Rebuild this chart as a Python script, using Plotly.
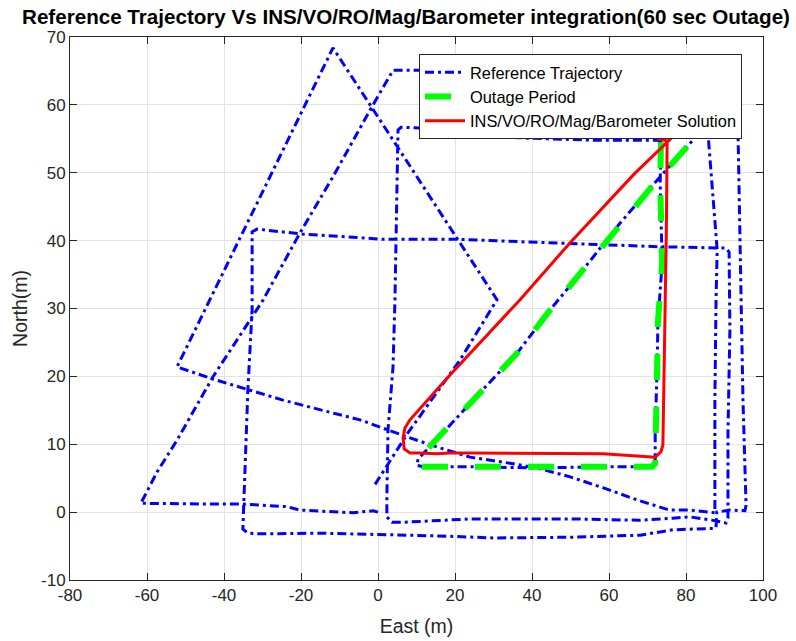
import plotly.graph_objects as go

# Reference trajectory (East, North in metres) up to the start of the outage window
ref_east_before = [0.0, -1.3, -6.5, -15.1, -20.3, -23.6, -35.1, -45.5, -61.6,
                   -57.4, -52.2, -42.9, -29.9, -20.3, -11.7, -2.1, 3.9,
                   10.9, 92.0,
                   93.5, 94.0, 94.6, 94.8, 95.6, 95.3, 91.4, 88.0,
                   87.8, 87.0, 76.6, 68.1, 49.9, 29.9, 15.3, 5.7, -15.1, -30.7, -33.8, -35.1,
                   -34.8, -34.5, -33.8, -32.7, -32.7, -31.4,
                   -20.3, 1.3, 20.5, 38.7, 59.5, 73.3, 90.4, 91.2,
                   91.4, 90.9, 90.9, 90.4,
                   88.0, 81.0, 76.6, 68.1, 49.9, 23.9, 6.5, 3.6, 2.3,
                   2.3, 2.6, 3.9, 4.4, 4.9, 5.2, 6.0,
                   10.9, 21.3, 38.7, 55.9, 72.5]
ref_north_before = [0.0, 0.2, -0.1, 0.2, 0.3, 0.8, 1.2, 1.2, 1.3,
                    5.9, 10.6, 19.9, 31.2, 41.1, 49.4, 59.2, 65.1,
                    65.1, 63.0,
                    56.3, 41.6, 26.8, 16.5, 1.0, 0.2, 0.3, 0.0,
                    -2.3, -2.4, -2.6, -3.4, -3.7, -3.8, -3.5, -3.4, -3.1, -3.2, -3.1, -2.5,
                    1.8, 6.2, 18.0, 29.8, 41.3, 41.7,
                    41.0, 40.2, 40.2, 39.8, 39.4, 39.1, 38.9, 38.3,
                    26.8, 11.7, -0.9, -1.6,
                    -1.3, -0.7, -0.9, -1.2, -1.0, -1.0, -1.5, -1.5, -0.7,
                    2.2, 12.1, 21.4, 31.2, 51.4, 56.3, 56.7,
                    56.6, 55.6, 55.1, 54.8, 54.8]

# Reference trajectory during the 60 s outage
outage_east = [73.5, 73.3, 73.8, 72.7, 72.5, 72.0, 72.0, 71.2, 58.4, 41.3, 23.9, 11.7,
               10.1, 10.4, 12.2, 16.9, 26.0, 36.1, 44.7, 51.7, 62.9, 72.5, 81.8, 85.2]
outage_north = [54.5, 48.5, 36.7, 27.9, 21.4, 11.7, 7.2, 6.7, 6.7, 6.5, 6.7, 6.7,
                6.9, 7.8, 8.9, 11.7, 17.3, 23.4, 29.8, 34.6, 42.6, 48.9, 54.8, 57.6]

# Reference trajectory after the outage window
ref_east_after = [85.7, 86.8, 88.1, 87.8, 87.5, 87.5,
                  81.0, 75.7, 67.3, 58.4, 49.9, 41.3, 34.3, 23.9, 15.3, 7.0, -4.7, -11.7,
                  -24.7, -34.0, -42.9, -52.2,
                  -11.7, 30.9, 21.3, 7.8, -1.3]
ref_north_after = [55.9, 48.5, 38.6, 31.2, 16.5, -0.1,
                   0.3, 0.3, 1.8, 3.6, 5.2, 6.5, 7.2, 8.1, 9.6, 11.2, 13.6, 14.6,
                   16.5, 18.1, 19.6, 21.4,
                   68.4, 31.3, 22.4, 11.7, 3.6]

# INS/VO/RO/Mag/Barometer solution over the outage
sol_east = [72.5, 75.1, 74.9, 74.5, 74.3, 74.0, 73.5, 72.0, 58.4, 41.3, 23.9, 18.7,
            15.3, 10.9, 8.3, 6.8, 6.5, 7.0, 8.3, 18.7, 29.9, 36.9, 49.9, 66.5, 78.4, 81.6]
sol_north = [55.0, 54.7, 41.6, 27.3, 16.5, 9.9, 8.9, 8.1, 8.6, 8.7, 8.7, 8.7,
             8.6, 8.7, 8.7, 9.3, 10.9, 12.4, 13.6, 20.2, 27.1, 31.3, 39.7, 49.8, 56.3, 58.1]

# Axis ticks
x_ticks = [-80, -60, -40, -20, 0, 20, 40, 60, 80, 100]
y_ticks = [-10, 0, 10, 20, 30, 40, 50, 60, 70]

ref_east = ref_east_before + outage_east + ref_east_after
ref_north = ref_north_before + outage_north + ref_north_after

FONT = "Liberation Sans, Arial, Helvetica, sans-serif"
AX = "#262626"

fig = go.Figure()
fig.add_trace(go.Scatter(
    x=ref_east, y=ref_north, mode="lines", name="Reference Trajectory",
    line=dict(color="#0000FF", width=3, dash="9px,4px,3px,4px"),
))
fig.add_trace(go.Scatter(
    x=outage_east, y=outage_north, mode="lines", name="Outage Period",
    line=dict(color="#00FF00", width=6, dash="26px,27px"),
))
fig.add_trace(go.Scatter(
    x=sol_east, y=sol_north, mode="lines", name="INS/VO/RO/Mag/Barometer Solution",
    line=dict(color="#FF0000", width=3),
))

axis_common = dict(
    showgrid=True, gridcolor="#e3e3e3", gridwidth=1,
    zeroline=False, showline=True, linecolor=AX, linewidth=1, mirror="ticks",
    ticks="inside", ticklen=7, tickcolor=AX, tickwidth=1,
    tickfont=dict(family=FONT, size=17, color=AX),
    automargin=False,
)

fig.update_layout(
    width=796, height=641,
    margin=dict(l=70, r=33, t=37, b=61, autoexpand=False),
    paper_bgcolor="white", plot_bgcolor="white",
    font=dict(family=FONT, color=AX),
    title=dict(
        text="Reference Trajectory Vs INS/VO/RO/Mag/Barometer integration(60 sec Outage)",
        font=dict(family=FONT, size=20.6, color="#000000", weight="bold"),
        x=(406 - 70) / 693, xref="paper", xanchor="center",
        y=1 - 17 / 641, yref="container", yanchor="middle",
    ),
    xaxis=dict(axis_common, range=[-80, 100],
               tickvals=x_ticks, ticktext=[str(v) for v in x_ticks],
               title=dict(text="East (m)", font=dict(family=FONT, size=19.5, color=AX), standoff=14)),
    yaxis=dict(axis_common, range=[-10, 70],
               tickvals=y_ticks, ticktext=[str(v) for v in y_ticks],
               title=dict(text="North(m)", font=dict(family=FONT, size=19.5, color=AX), standoff=8)),
    legend=dict(
        x=(419 - 70) / 693, y=(580 - 54) / 543, xanchor="left", yanchor="top",
        bgcolor="white", bordercolor=AX, borderwidth=1,
        font=dict(family=FONT, size=16.4, color="#000000"),
        itemwidth=40,
    ),
    showlegend=True,
)

fig.write_html("out.html")
